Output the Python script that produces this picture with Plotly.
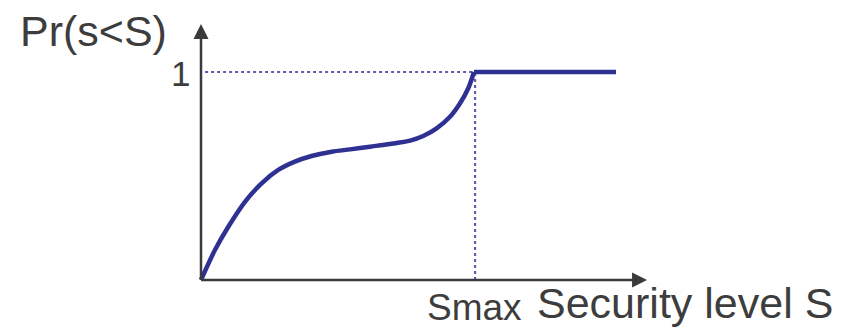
import plotly.graph_objects as go

# --- data (Smax = 1, Pr max = 1) ---
curve_x = [0.0, 0.051, 0.100, 0.161, 0.222, 0.283, 0.344, 0.405, 0.479, 0.546,
           0.619, 0.692, 0.766, 0.814, 0.863, 0.912, 0.949, 0.979, 1.0]
curve_y = [0.0, 0.144, 0.256, 0.376, 0.465, 0.529, 0.569, 0.596, 0.617, 0.628,
           0.641, 0.654, 0.670, 0.692, 0.729, 0.785, 0.850, 0.922, 1.0]
flat_x = [1.0, 1.52]
flat_y = [1.0, 1.0]
smax = 1.0
pmax = 1.0
x_axis_end = 1.634
y_axis_end = 1.231
y_label = "Pr(s<S)"
x_label = "Security level S"
smax_label = "Smax"
one_label = "1"

CURVE = "#2e3192"
DOT = "#5e5eac"
AXIS = "#3a3a3a"
TEXT = "#3d3d3d"
FONT = "Liberation Sans, Arial, sans-serif"

# page has an 8px body margin; figure is sized to fit the window
OFF = 8
W, H = 841 - OFF, 333 - OFF


def px(xr):
    return (xr - OFF) / W


def py(yr):
    return 1 - (yr - OFF) / H


fig = go.Figure()

# dotted guides
fig.add_trace(go.Scatter(x=[0.015, smax], y=[pmax, pmax], mode="lines",
                         line=dict(color=DOT, width=2.2, dash="dot"), hoverinfo="skip"))
fig.add_trace(go.Scatter(x=[smax + 0.004, smax + 0.004], y=[0, pmax], mode="lines",
                         line=dict(color=DOT, width=2.2, dash="dot"), hoverinfo="skip"))

# curve
fig.add_trace(go.Scatter(x=curve_x, y=curve_y, mode="lines",
                         line=dict(color=CURVE, width=4.5, shape="spline", smoothing=0.8),
                         hoverinfo="skip"))
fig.add_trace(go.Scatter(x=flat_x, y=flat_y, mode="lines",
                         line=dict(color=CURVE, width=4.5), hoverinfo="skip"))

annotations = [
    # axes arrows
    dict(x=x_axis_end, y=0, ax=-0.005, ay=0, xref="x", yref="y", axref="x", ayref="y",
         text="", showarrow=True, arrowhead=2, arrowsize=1.2, arrowwidth=2.5,
         arrowcolor=AXIS, standoff=0),
    dict(x=0, y=y_axis_end, ax=0, ay=-0.006, xref="x", yref="y", axref="x", ayref="y",
         text="", showarrow=True, arrowhead=2, arrowsize=1.2, arrowwidth=2.5,
         arrowcolor=AXIS, standoff=0),
    # labels
    dict(x=px(18), y=py(31), xref="paper", yref="paper", text=y_label,
         showarrow=False, xanchor="left", yanchor="middle",
         font=dict(family=FONT, size=43, color=TEXT)),
    dict(x=px(192), y=py(74), xref="paper", yref="paper", text=one_label,
         showarrow=False, xanchor="right", yanchor="middle",
         font=dict(family=FONT, size=35, color=TEXT)),
    dict(x=px(425), y=py(307), xref="paper", yref="paper", text=smax_label,
         showarrow=False, xanchor="left", yanchor="middle",
         font=dict(family=FONT, size=37, color=TEXT)),
    dict(x=px(535), y=py(303), xref="paper", yref="paper", text=x_label,
         showarrow=False, xanchor="left", yanchor="middle",
         font=dict(family=FONT, size=43, color=TEXT)),
]

fig.update_layout(
    width=W, height=H,
    margin=dict(l=0, r=0, t=0, b=0),
    paper_bgcolor="white", plot_bgcolor="white",
    showlegend=False,
    xaxis=dict(range=[(OFF - 201) / 273, (841 - 201) / 273], visible=False, fixedrange=True),
    yaxis=dict(range=[(280 - 333) / 208, (280 - OFF) / 208], visible=False, fixedrange=True),
    annotations=annotations,
)

fig.write_html("out.html")
